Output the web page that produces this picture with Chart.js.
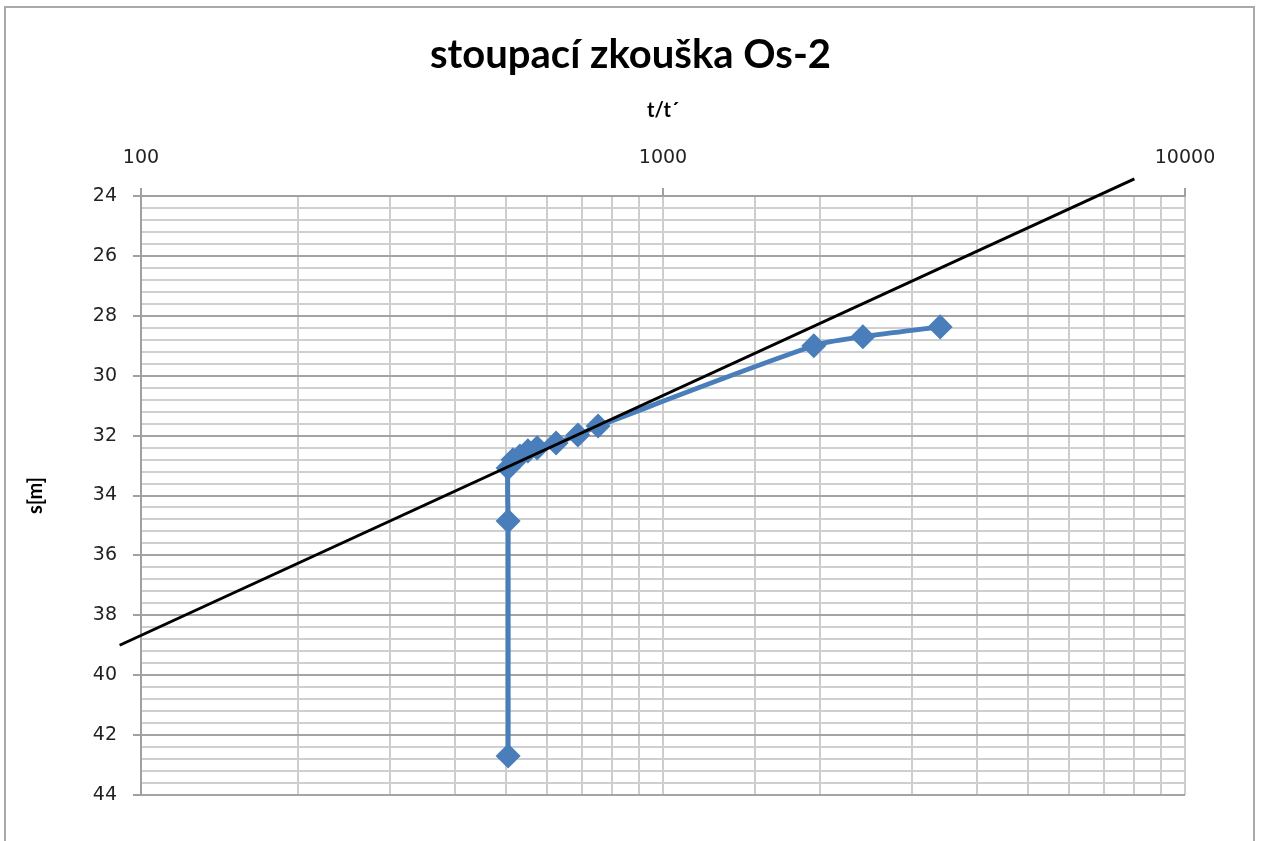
<!DOCTYPE html>
<html>
<head>
<meta charset="utf-8">
<script src="https://cdn.jsdelivr.net/npm/chart.js@4"></script>
<style>
  html, body { margin: 0; padding: 0; background: #fff; }
</style>
</head>
<body>
<canvas id="chart" width="1261" height="841"></canvas>
<script>
// measured rise: time ratio t/t' and drawdown s [m]
const ratio = [505, 505, 505, 516, 532, 551, 574, 624, 687, 751, 1945, 2415, 3396];
const drawdown = [42.7, 34.85, 33.08, 32.81, 32.68, 32.51, 32.41, 32.25, 31.98, 31.68, 29.0, 28.7, 28.37];

// straight-line fit through the late data
const fitRatio = [91, 8000];
const fitDrawdown = [39.0, 23.43];

const xTickLabels = [100, 1000, 10000];
const yTickLabels = [24, 26, 28, 30, 32, 34, 36, 38, 40, 42, 44];

const isLabelX = v => xTickLabels.some(t => Math.abs(v - t) < 1e-6);
const isLabelY = v => yTickLabels.some(t => Math.abs(v - t) < 1e-6);

const titleSize = 40;
const titlePadTop = 31;
const titleBlock = titleSize * 1.2 + titlePadTop;

const frame = {
  id: 'frame',
  beforeDraw(chart) {
    const c = chart.ctx;
    c.save();
    c.fillStyle = '#fff';
    c.fillRect(0, 0, chart.width, chart.height);
    c.strokeStyle = '#a9a9a9';
    c.lineWidth = 2;
    c.strokeRect(5, 7, 1249, 900);
    c.restore();
  }
};

new Chart(document.getElementById('chart'), {
  type: 'scatter',
  data: {
    datasets: [
      {
        label: 'fit',
        data: fitRatio.map((t, i) => ({ x: t, y: fitDrawdown[i] })),
        showLine: true,
        borderColor: '#000',
        borderWidth: 3,
        pointRadius: 0,
        clip: false
      },
      {
        label: 's',
        data: ratio.map((t, i) => ({ x: t, y: drawdown[i] })),
        showLine: true,
        borderColor: '#4a7ebb',
        backgroundColor: '#4a7ebb',
        borderWidth: 5,
        pointStyle: 'rectRot',
        pointRadius: 9,
        tension: 0.3,
        clip: false
      }
    ]
  },
  options: {
    responsive: false,
    animation: false,
    layout: { padding: { left: 0, right: 0, top: 0, bottom: 46 } },
    plugins: {
      legend: { display: false },
      tooltip: { enabled: false },
      title: {
        display: true,
        text: 'stoupací zkouška Os-2',
        color: '#000',
        font: { family: 'Lato', size: titleSize, weight: 'bold' },
        padding: { top: titlePadTop, bottom: 0 }
      }
    },
    scales: {
      x: {
        type: 'logarithmic',
        position: 'top',
        min: 100,
        max: 10000,
        afterFit: s => { s.height = 196 - titleBlock; },
        title: {
          display: true,
          text: 't/t´',
          color: '#000',
          font: { family: 'Lato', size: 20, weight: 'bold' },
          padding: { top: 20, bottom: 0 }
        },
        border: { color: '#a0a0a0', width: 2 },
        grid: {
          color: '#cdcdcd',
          lineWidth: 2,
          tickLength: 8,
          tickColor: c => isLabelX(c.tick.value) ? '#a0a0a0' : 'rgba(0,0,0,0)'
        },
        ticks: {
          autoSkip: false,
          maxRotation: 0,
          padding: 19,
          color: '#222',
          font: { family: 'DejaVu Sans', size: 19 },
          callback: v => isLabelX(v) ? String(Math.round(v)) : ''
        }
      },
      y: {
        reverse: true,
        min: 24,
        max: 44,
        afterFit: s => { s.width = 141; },
        title: {
          display: true,
          text: 's[m]',
          color: '#000',
          font: { family: 'Lato', size: 20, weight: 'bold' },
          padding: { top: 24, bottom: 0 }
        },
        border: { color: '#a0a0a0', width: 2 },
        grid: {
          color: c => isLabelY(c.tick.value) ? '#a4a4a4' : '#cfcfcf',
          lineWidth: 2,
          tickLength: 8,
          tickColor: c => isLabelY(c.tick.value) ? '#a0a0a0' : 'rgba(0,0,0,0)'
        },
        ticks: {
          stepSize: 0.4,
          autoSkip: false,
          padding: 16,
          color: '#222',
          font: { family: 'DejaVu Sans', size: 19 },
          callback: v => isLabelY(v) ? String(Math.round(v)) : ''
        }
      },
      // empty right-hand strip so the title centres on the whole canvas
      y2: {
        position: 'right',
        afterFit: s => { s.width = 76; },
        grid: { display: false },
        border: { display: false },
        ticks: { display: false }
      }
    }
  },
  plugins: [frame]
});
</script>
</body>
</html>
